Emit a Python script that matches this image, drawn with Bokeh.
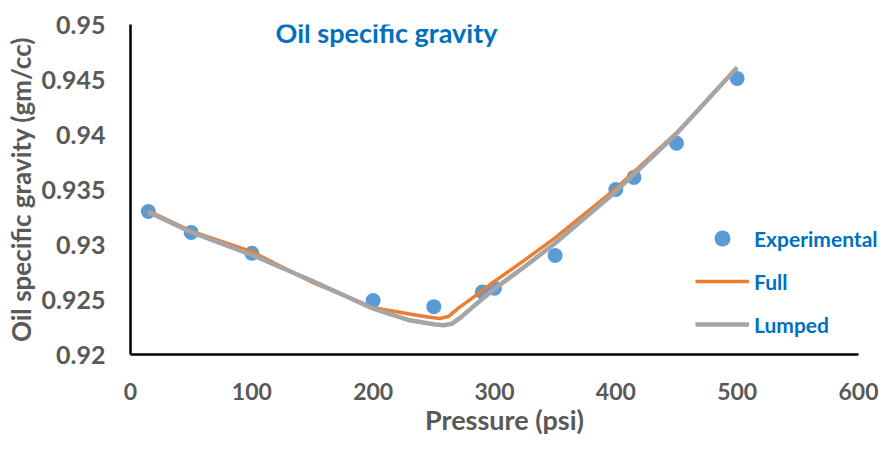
from bokeh.plotting import figure
from bokeh.models import Range1d, Legend, LegendItem, Label, FixedTicker
from bokeh.embed import file_html
from bokeh.resources import INLINE

# Experimental data
exp_p = [14.7, 50, 100, 200, 250, 290, 300, 350, 400, 415, 450, 500]
exp_sg = [0.9330, 0.9311, 0.9292, 0.9249, 0.92435, 0.92568, 0.92603, 0.9290, 0.9350, 0.9361, 0.9392, 0.9451]

# Full model curve
full_p = [14.7, 50, 100, 150, 200, 230, 245, 255, 262, 270, 285, 300, 325, 350, 400, 450, 500]
full_sg = [0.93305, 0.93121, 0.92935, 0.92655, 0.92426, 0.92368, 0.92340, 0.92328, 0.92345, 0.92420, 0.92540, 0.92665, 0.92860, 0.93060, 0.93509, 0.94015, 0.94609]

# Lumped model curve
lump_p = [14.7, 50, 100, 150, 200, 230, 250, 258, 265, 272, 285, 300, 325, 350, 400, 450, 500]
lump_sg = [0.93296, 0.93112, 0.92905, 0.92668, 0.92417, 0.92311, 0.92275, 0.92266, 0.92280, 0.92335, 0.92460, 0.92597, 0.92800, 0.93012, 0.93482, 0.94006, 0.94609]

x_ticks = [0, 100, 200, 300, 400, 500, 600]
y_ticks = [0.92, 0.925, 0.93, 0.935, 0.94, 0.945, 0.95]
y_tick_labels = {0.92: "0.92", 0.925: "0.925", 0.93: "0.93", 0.935: "0.935", 0.94: "0.94", 0.945: "0.945", 0.95: "0.95"}

X_AXIS_END = 600
X_VIEW_END = 616.5   # view extends past the axis end so the legend fits inside the frame

FONT = "Lato"
GRAY_TXT = "#595959"
BLUE_TXT = "#0070C0"

p = figure(width=878, height=438, output_backend="svg", toolbar_location=None,
           x_range=Range1d(0, X_VIEW_END), y_range=Range1d(0.92, 0.95),
           min_border_left=130, min_border_right=0, min_border_top=24, min_border_bottom=81)
p.outline_line_color = None
p.xgrid.visible = False
p.ygrid.visible = False
p.background_fill_color = "white"
p.border_fill_color = "white"

for ax in (p.xaxis[0], p.yaxis[0]):
    ax.axis_line_color = "black"
    ax.axis_line_width = 2.5
    ax.major_tick_line_color = None
    ax.minor_tick_line_color = None
    ax.major_tick_out = 0
    ax.major_tick_in = 0
    ax.major_label_text_font = FONT
    ax.major_label_text_font_style = "bold"
    ax.major_label_text_color = GRAY_TXT
    ax.major_label_text_line_height = 1.0
    ax.axis_label_text_font = FONT
    ax.axis_label_text_font_style = "bold"
    ax.axis_label_text_color = GRAY_TXT
    ax.axis_label_text_line_height = 1.0

p.xaxis.bounds = (0, X_AXIS_END)
p.xaxis.major_label_text_font_size = "23px"
p.yaxis.major_label_text_font_size = "25px"
p.xaxis.axis_label_text_font_size = "27px"
p.yaxis.axis_label_text_font_size = "26px"

p.xaxis.ticker = FixedTicker(ticks=x_ticks)
p.yaxis.ticker = FixedTicker(ticks=y_ticks)
p.yaxis.major_label_overrides = y_tick_labels
p.xaxis.major_label_standoff = 28
p.yaxis.major_label_standoff = 25
p.xaxis.axis_label = "Pressure (psi)"
p.yaxis.axis_label = "Oil specific gravity (gm/cc)"
p.xaxis.axis_label_standoff = 0
p.yaxis.axis_label_standoff = 2

r_exp = p.scatter(exp_p, exp_sg, size=15, color="#5B9BD5", line_color=None)
r_full = p.line(full_p, full_sg, line_color="#ED7D31", line_width=3.5)
r_lump = p.line(lump_p, lump_sg, line_color="#A5A5A5", line_width=4.5)

legend = Legend(items=[LegendItem(label="Experimental", renderers=[r_exp]),
                       LegendItem(label="Full", renderers=[r_full]),
                       LegendItem(label="Lumped", renderers=[r_lump])],
                location=(565, 10), glyph_width=54, glyph_height=40, spacing=3,
                padding=0, margin=0, label_standoff=5,
                border_line_color=None, background_fill_alpha=0,
                label_text_font=FONT, label_text_font_style="bold",
                label_text_color=BLUE_TXT, label_text_font_size="21px")
p.add_layout(legend, "center")

title = Label(x=211, y=0.94928, text="Oil specific gravity", text_align="center",
              text_baseline="alphabetic", text_font=FONT, text_font_style="bold",
              text_color=BLUE_TXT, text_font_size="27px")
p.add_layout(title)

open("out.html", "w").write(file_html(p, INLINE))
